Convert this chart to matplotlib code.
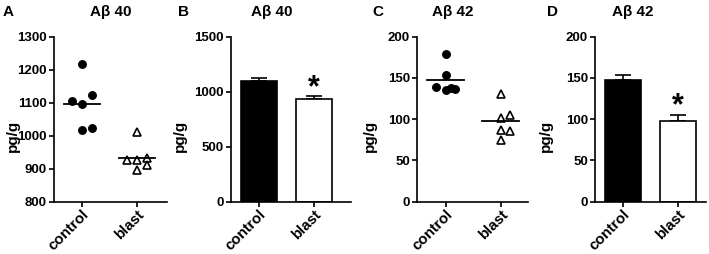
import matplotlib
matplotlib.use("Agg")
import matplotlib.pyplot as plt
import numpy as np

plt.rcParams['font.family'] = ['Liberation Sans', 'DejaVu Sans']
plt.rcParams['font.weight'] = 'bold'

groups = ['control', 'blast']

# panel A: Abeta 40 individual values
ab40_control = [1218, 1105, 1097, 1122, 1016, 1024]
ab40_blast = [1012, 926, 926, 932, 896, 910]
ab40_control_col = [0, -2, 0, 2, 0, 2]
ab40_blast_col = [0, -2, 0, 2, 0, 2]

# panel B: Abeta 40 mean and SEM
ab40_mean = [1100, 938]
ab40_sem = [27, 20]

# panel C: Abeta 42 individual values
ab42_control = [178.7, 153.6, 139.4, 135.4, 138.2, 136.2]
ab42_blast = [130, 101, 104.6, 87.3, 85.7, 74.7]
ab42_control_col = [0, 0, -2, 0, 1, 2]
ab42_blast_col = [0, 0, 2, 0, 2, 0]

# panel D: Abeta 42 mean and SEM
ab42_mean = [147, 97.4]
ab42_sem = [7, 7.5]

W, H = 709, 254
fig = plt.figure(figsize=(W / 100, H / 100), dpi=100)

def make_ax(left, right, xlim):
    ax = fig.add_axes([left / W, (H - 201.7) / H, (right - left) / W, 165 / H])
    ax.set_xlim(*xlim)
    for s in ['top', 'right']:
        ax.spines[s].set_visible(False)
    for s in ['left', 'bottom']:
        ax.spines[s].set_linewidth(1.2)
    ax.tick_params(width=1.2, length=3.5, labelsize=9.5, pad=1.5)
    ax.tick_params(axis='x', pad=0.5)
    ax.set_xticks([0, 1])
    ax.set_xticklabels(groups, rotation=45, ha='right', rotation_mode='anchor',
                       fontsize=10.8, fontweight='bold')
    return ax

step = 0.09

def scatter_panel(ax, ctrl, blast, ccol, bcol):
    x0 = np.array(ccol) * step
    x1 = 1 + np.array(bcol) * step
    ax.plot(x0, ctrl, 'o', color='black', ms=5.4, clip_on=False)
    ax.plot(x1, blast, '^', mfc='white', mec='black', mew=1.2, ms=6, clip_on=False)
    for i, vals in enumerate([ctrl, blast]):
        ax.plot([i - 0.33, i + 0.33], [np.mean(vals)] * 2, color='black', lw=1.3)

def bar_panel(ax, means, sems):
    ax.bar([0, 1], means, width=0.64, color=['black', 'white'],
           edgecolor='black', linewidth=1.2, zorder=2)
    ax.errorbar([0, 1], means, yerr=[[0, 0], sems], fmt='none',
                ecolor='black', elinewidth=1.2, capsize=5.5, capthick=1.2, zorder=1)

axA = make_ax(54, 167, (-0.509, 1.545))
scatter_panel(axA, ab40_control, ab40_blast, ab40_control_col, ab40_blast_col)
axA.set_ylim(800, 1300)
axA.set_yticks(range(800, 1301, 100))

axB = make_ax(230.7, 350.7, (-0.515, 1.667))
bar_panel(axB, ab40_mean, ab40_sem)
axB.set_ylim(0, 1500)
axB.set_yticks([0, 500, 1000, 1500])

axC = make_ax(417, 528, (-0.52, 1.5))
scatter_panel(axC, ab42_control, ab42_blast, ab42_control_col, ab42_blast_col)
axC.set_ylim(0, 200)
axC.set_yticks([0, 50, 100, 150, 200])

axD = make_ax(595, 706, (-0.51, 1.51))
bar_panel(axD, ab42_mean, ab42_sem)
axD.set_ylim(0, 200)
axD.set_yticks([0, 50, 100, 150, 200])

for ax, lx in zip([axA, axB, axC, axD], [-0.30, -0.364, -0.36, -0.378]):
    for lab in ax.get_yticklabels():
        lab.set_fontweight('bold')
    ax.set_ylabel('pg/g', fontsize=11, fontweight='bold')
    ax.yaxis.set_label_coords(lx, 0.4)

# significance stars (baseline placed so the glyph sits just above the error bar)
axB.text(1, ab40_mean[1] + 20, '*', ha='center', va='baseline',
         fontsize=22, fontweight='bold')
axD.text(1, ab42_mean[1] + 8, '*', ha='center', va='baseline',
         fontsize=22, fontweight='bold')

titles = ['A\u03b2 40', 'A\u03b2 40', 'A\u03b2 42', 'A\u03b2 42']
title_x = [111, 272, 453, 633]
letters = ['A', 'B', 'C', 'D']
letter_x = [3, 178, 372, 547]
for t, tx, l, lx in zip(titles, title_x, letters, letter_x):
    fig.text(tx / W, 1 - 12 / H, t, ha='center', va='center', fontsize=11, fontweight='bold')
    fig.text(lx / W, 1 - 12 / H, l, ha='left', va='center', fontsize=11, fontweight='bold')

fig.savefig('out.png', dpi=100)
